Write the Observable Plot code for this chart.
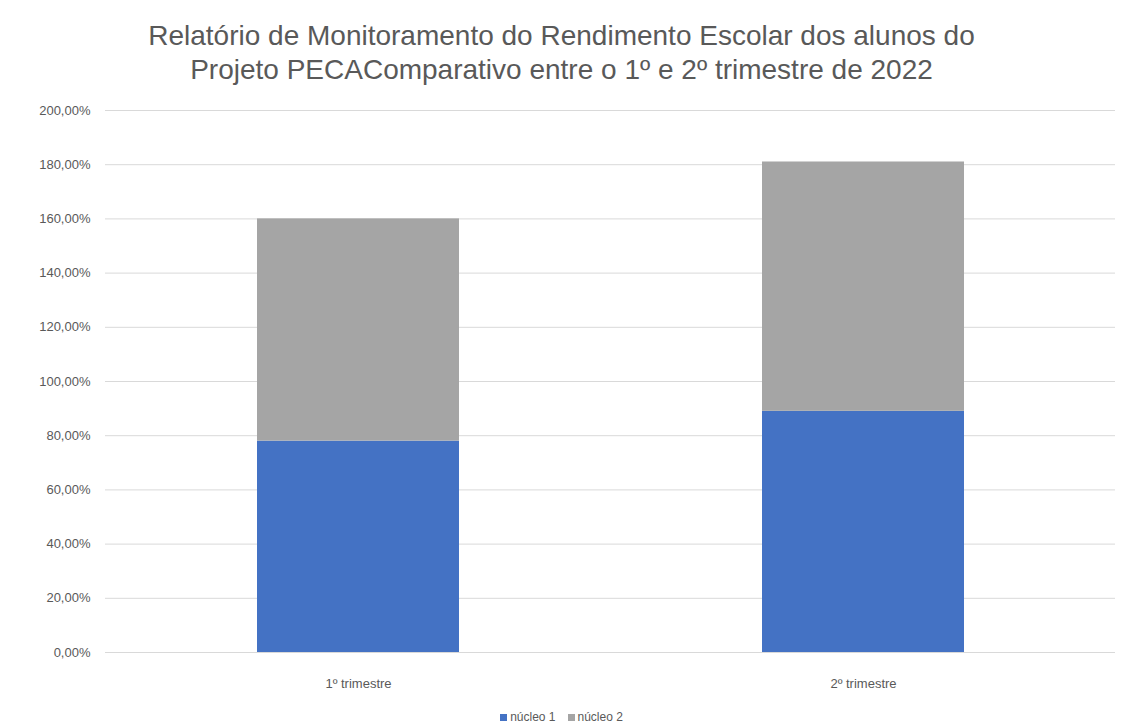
<!DOCTYPE html>
<html>
<head>
<meta charset="utf-8">
<script src="https://cdn.jsdelivr.net/npm/d3@7"></script>
<script src="https://cdn.jsdelivr.net/npm/@observablehq/plot@0.6"></script>
<style>
  html, body { margin: 0; padding: 0; background: #fff; }
  body { width: 1123px; height: 728px; overflow: hidden; font-family: "Liberation Sans", Arial, sans-serif; }
  #title { height: 95px; box-sizing: border-box; padding-top: 19px; text-align: center; color: #595959; font-size: 28px; line-height: 34px; }
  #legend { text-align: center; color: #595959; font-size: 12px; margin-top: 10px; }
  #legend span.sw { display: inline-block; width: 7px; height: 7px; margin-right: 3px; vertical-align: 0px; }
  #legend span.item { margin: 0 6px; }
</style>
</head>
<body>
<div id="title">Relatório de Monitoramento do Rendimento Escolar dos alunos do<br>Projeto PECAComparativo entre o 1º e 2º trimestre de 2022</div>
<div id="chart"></div>
<div id="legend"></div>
<script>
const categories = ["1º trimestre", "2º trimestre"];
const series = ["núcleo 1", "núcleo 2"];
const nucleo1 = [78, 89];
const nucleo2 = [82, 92];
const colors = ["#4472C4", "#A5A5A5"];
const yTicks = [0, 20, 40, 60, 80, 100, 120, 140, 160, 180, 200];

const data = [];
categories.forEach((c, i) => {
  data.push({cat: c, series: series[0], value: nucleo1[i]});
  data.push({cat: c, series: series[1], value: nucleo2[i]});
});

const fmt = d => d.toFixed(2).replace(".", ",") + "%";

const plot = Plot.plot({
  width: 1123,
  height: 605,
  marginLeft: 105,
  marginRight: 8,
  marginTop: 15,
  marginBottom: 48,
  style: { fontFamily: "Liberation Sans, Arial, sans-serif", fontSize: "13px", color: "#595959", background: "#fff" },
  x: { domain: categories, paddingInner: 0.6, paddingOuter: 0.3, label: null, tickSize: 0, tickPadding: 26 },
  y: { domain: [0, 200], ticks: yTicks, tickFormat: fmt, label: null, tickSize: 0, tickPadding: 15 },
  color: { domain: series, range: colors },
  marks: [
    Plot.gridY(yTicks, { stroke: "#D9D9D9", strokeOpacity: 1, strokeWidth: 1 }),
    Plot.barY(data, { x: "cat", y: "value", fill: "series" }),
    Plot.axisY({ ticks: yTicks, tickFormat: fmt, tickSize: 0, tickPadding: 15, label: null, fill: "#595959" }),
    Plot.axisX({ tickSize: 0, tickPadding: 26, label: null, fill: "#595959" })
  ]
});
document.getElementById("chart").appendChild(plot);

const legend = document.getElementById("legend");
series.forEach((s, i) => {
  const item = document.createElement("span");
  item.className = "item";
  const sw = document.createElement("span");
  sw.className = "sw";
  sw.style.background = colors[i];
  item.appendChild(sw);
  item.appendChild(document.createTextNode(s));
  legend.appendChild(item);
});
</script>
</body>
</html>
